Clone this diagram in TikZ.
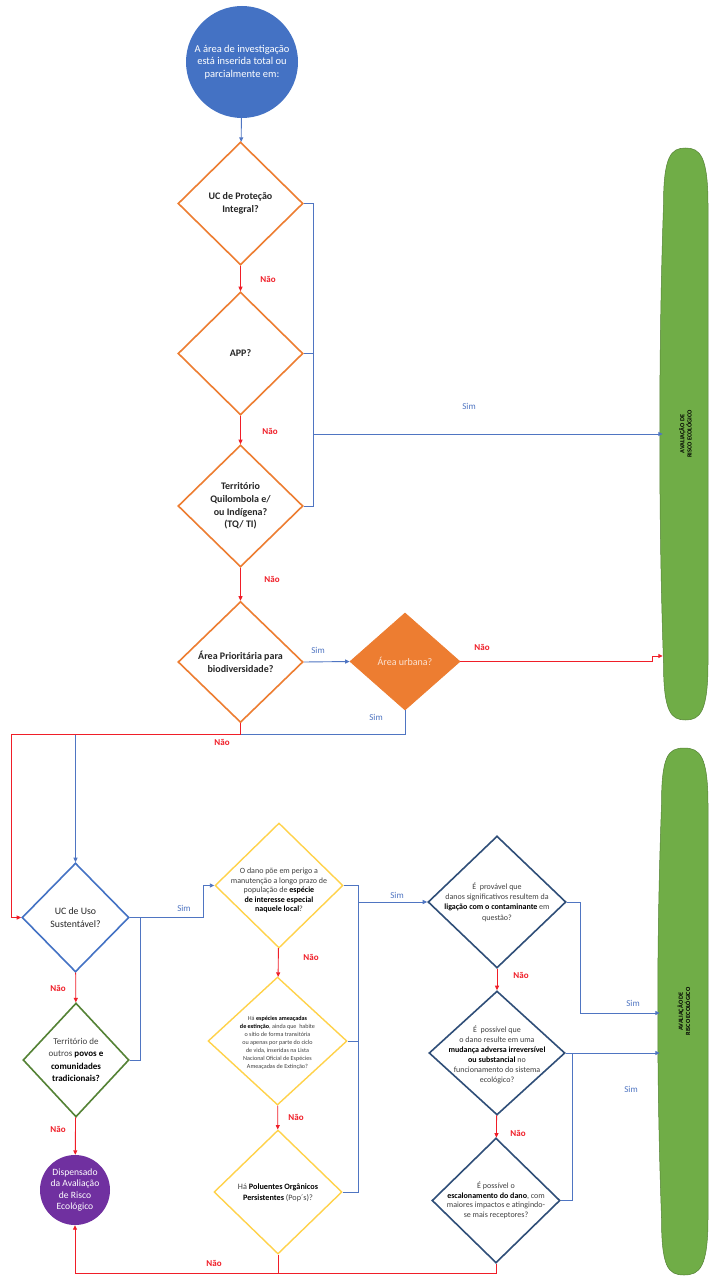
\documentclass[tikz,border=0pt]{standalone}
\usepackage{fontspec}
\setmainfont{Carlito}
\usetikzlibrary{shapes.geometric,arrows.meta,calc}
\definecolor{orC}{HTML}{ED7D31}
\definecolor{blC}{HTML}{4472C4}
\definecolor{lnB}{HTML}{4F75C2}
\definecolor{rdC}{HTML}{F01E28}
\definecolor{puC}{HTML}{7030A0}
\definecolor{grC}{HTML}{70AD47}
\definecolor{grD}{HTML}{548235}
\definecolor{ylC}{HTML}{FFD24A}
\definecolor{nvC}{HTML}{2F4E78}
\definecolor{txG}{HTML}{404040}
\definecolor{urT}{HTML}{FBE3D3}
\newcommand{\bkb}[1]{\textbf{\color{black}#1}}
\begin{document}
\begin{tikzpicture}[x=1pt,y=-1pt,
  dia/.style={shape=diamond,inner sep=0pt,line width=1.6pt,fill=white},
  circ/.style={shape=circle,inner sep=0pt,draw=none},
  txt/.style={align=center,inner sep=0pt,font=\fontsize{10}{12}\selectfont},
  otxt/.style={txt,text=black!85,font=\bfseries\fontsize{10}{12.5}\selectfont},
  ln/.style={line width=0.9pt},
  bl/.style={ln,draw=lnB},
  rd/.style={ln,draw=rdC},
  arr/.style={-{Triangle[length=4.5pt,width=4pt]}},
  nao/.style={text=rdC,inner sep=0pt,font=\bfseries\fontsize{9}{10}\selectfont},
  sim/.style={text=lnB,inner sep=0pt,font=\fontsize{9}{10}\selectfont},
  gtxt/.style={align=center,inner sep=0pt,rotate=90,font=\bfseries\fontsize{6.3}{7.3}\selectfont},
  gbox/.style={shape=rectangle,draw=none,inner sep=0pt}
]
\useasboundingbox (0,0) rectangle (710,1279);
\fill[white] (0,0) rectangle (710,1279);

% green terminators
\node[gbox,minimum width=45pt,minimum height=572pt] (g1) at (685.5,434) {};
\node[gbox,minimum width=48pt,minimum height=527pt] (g2) at (684,1011.5) {};
\filldraw[fill=grC,draw=grD,line width=0.5pt]
  (685.5,148) .. controls (700,148) and (708,156) .. (708,205)
  -- (708,663) .. controls (708,712) and (700,720) .. (685.5,720)
  .. controls (671,720) and (663.5,712) .. (663.5,663)
  .. controls (658.5,520) and (658.5,350) .. (663.5,205)
  .. controls (663.5,156) and (671,148) .. (685.5,148) -- cycle;
\filldraw[fill=grC,draw=grD,line width=0.5pt]
  (684,748) .. controls (700,748) and (708,756) .. (708,805)
  -- (708,1218) .. controls (708,1267) and (700,1275) .. (684,1275)
  .. controls (668,1275) and (661.5,1267) .. (661.5,1218)
  .. controls (656.5,1080) and (656.5,940) .. (661.5,805)
  .. controls (661.5,756) and (668,748) .. (684,748) -- cycle;
\node[gtxt] (g1t) at (g1) {AVALIAÇÃO DE\\RISCO ECOLÓGICO};
\node[gtxt] (g2t) at (g2) {AVALIAÇÃO DE\\RISCO ECOLÓGICO};

% start and end circles
\node[circ,fill=blC,minimum size=112pt] (start) at (242,62) {};
\node[txt,text=white,font=\fontsize{10.5}{12.5}\selectfont] (startt) at (start) {A área de investigação\\está inserida total ou\\parcialmente em:};
\node[circ,fill=puC,minimum size=70pt] (disp) at (75,1190) {};
\node[txt,text=white,font=\fontsize{9.6}{11.4}\selectfont] (dispt) at (disp) {Dispensado\\da Avaliação\\de Risco\\Ecológico};

% orange diamonds
\node[dia,draw=orC,minimum width=125pt,minimum height=123pt] (d1) at (240.5,203.5) {};
\node[dia,draw=orC,minimum width=125pt,minimum height=123pt] (d2) at (240.5,353.5) {};
\node[dia,draw=orC,minimum width=125pt,minimum height=122pt] (d3) at (240.5,506) {};
\node[dia,draw=orC,minimum width=125pt,minimum height=121pt] (d4) at (240.5,662) {};
\node[dia,draw=orC,fill=orC,line width=0.8pt,minimum width=110pt,minimum height=97pt] (urb) at (405,661.5) {};
\node[otxt] (d1t) at (d1) {UC de Proteção\\Integral?};
\node[otxt] (d2t) at (d2) {APP?};
\node[otxt,font=\bfseries\fontsize{10}{12.8}\selectfont] (d3t) at (d3) {Território\\Quilombola e/\\ou Indígena?\\(TQ/ TI)};
\node[otxt] (d4t) at (d4) {Área Prioritária para\\biodiversidade?};
\node[txt,text=urT] (urbt) at (urb) {Área urbana?};

% left column
\node[dia,draw=blC,minimum width=107pt,minimum height=109pt] (uc) at (75.5,917.5) {};
\node[txt,text=black!85,font=\fontsize{9.8}{12.5}\selectfont] (uct) at (uc) {UC de Uso\\Sustentável?};
\node[dia,draw=grD,minimum width=106pt,minimum height=114pt] (terr) at (76,1060) {};
\node[txt,text=txG,font=\fontsize{9}{12.3}\selectfont] (terrt) at (terr) {Território de\\outros \bkb{povos e}\\\bkb{comunidades}\\\bkb{tradicionais?}};

% yellow diamonds
\node[dia,draw=ylC,line width=1.4pt,minimum width=128pt,minimum height=125pt] (y1) at (279,885.5) {};
\node[dia,draw=ylC,line width=1.4pt,minimum width=139pt,minimum height=128pt] (y2) at (277.5,1041) {};
\node[dia,draw=ylC,line width=1.4pt,minimum width=128pt,minimum height=124pt] (y3) at (278,1192) {};
\node[txt,text=txG,font=\fontsize{8}{9.6}\selectfont] (y1t) at ($(y1)+(0,5)$) {O dano põe em perigo a\\manutenção a longo prazo de\\população de \bkb{espécie}\\\bkb{de interesse especial}\\\bkb{naquele local}?};
\node[txt,text=txG,font=\fontsize{6.1}{7.9}\selectfont] (y2t) at ($(y2)+(0,2)$) {Há \bkb{espécies ameaçadas}\\\bkb{de extinção}, ainda que~ habite\\o sítio de forma transitória\\ou apenas por parte do ciclo\\de vida, inseridas na Lista\\Nacional Oficial de Espécies\\Ameaçadas de Extinção?};
\node[txt,text=txG,font=\fontsize{8.2}{11.3}\selectfont] (y3t) at ($(y3)+(0,1)$) {Há \bkb{Poluentes Orgânicos}\\\bkb{Persistentes} (Pop´s)?};

% navy diamonds
\node[dia,draw=nvC,minimum width=138pt,minimum height=132pt] (k1) at (497,902) {};
\node[dia,draw=nvC,minimum width=136pt,minimum height=124pt] (k2) at (497,1053) {};
\node[dia,draw=nvC,minimum width=128pt,minimum height=125pt] (k3) at (496,1200.5) {};
\node[txt,text=txG,font=\fontsize{8}{10.4}\selectfont] (k1t) at (k1) {É~ provável que\\danos significativos resultem da\\\bkb{ligação com o contaminante} em\\questão?};
\node[txt,text=txG,font=\fontsize{8}{9.9}\selectfont] (k2t) at ($(k2)+(0,2)$) {É~ possível que\\o dano resulte em uma\\\bkb{mudança adversa irreversível}\\\bkb{ou substancial} no\\funcionamento do sistema\\ecológico?};
\node[txt,text=txG,font=\fontsize{8}{9.5}\selectfont] (k3t) at (k3) {É possível o\\\bkb{escalonamento do dano}, com\\maiores impactos e atingindo-\\se mais receptores?};

% junction coordinates
\coordinate (j1) at (313,434);
\coordinate (r1) at (652,661.5);
\coordinate (jb) at (75.5,734);
\coordinate (jr) at (11,734);
\coordinate (ju) at (203,917.5);
\coordinate (jt) at (140,917.5);
\coordinate (jy) at (358,902);
\coordinate (jr2) at (75,1273);
\coordinate (jk1) at (580,1013);
\coordinate (jk3) at (572,1053);

% top blue connectors
\draw[bl,arr] (start) -- (d1);
\draw[bl] (d1.east) -| (j1);
\draw[bl] (d2.east) -- (d2.east -| j1);
\draw[bl] (d3.east) -| (j1);
\draw[bl,arr] (j1) -- (j1 -| g1.west);
\node[sim] (s1) at (469,406) {Sim};

% top red connectors
\draw[rd,arr] (d1) -- (d2);
\draw[rd,arr] (d2) -- (d3);
\draw[rd,arr] (d3) -- (d4);
\node[nao] (n1) at (268,279) {Não};
\node[nao] (n2) at (270,431) {Não};
\node[nao] (n3) at (272,579) {Não};

% area prioritaria / urbana
\draw[bl,arr] (d4.east) -- (urb.west);
\node[sim] (s2) at (318,650) {Sim};
\draw[rd,arr] (urb.east) -- (r1) |- (g1.west |- 0,656);
\node[nao] (n4) at (482,647) {Não};
\draw[bl,arr] (urb.south) |- (jb) -- (uc.north);
\node[sim] (s3) at (376,717) {Sim};
\draw[rd,arr] (d4.south) |- (jr) |- (uc.west);
\node[nao] (n5) at (222,742) {Não};

% left column connectors
\draw[rd,arr] (uc) -- (terr);
\node[nao] (n6) at (58,988) {Não};
\draw[rd,arr] (terr) -- (disp);
\node[nao] (n7) at (58,1129) {Não};
\draw[bl,arr] (uc.east) -- (ju) |- (y1.west);
\node[sim] (s4) at (184,908) {Sim};
\draw[bl] (terr.east) -| (jt);

% yellow connectors
\draw[rd,arr] (y1) -- (y2);
\node[nao] (n8) at (311,957) {Não};
\draw[rd,arr] (y2) -- (y3);
\node[nao] (n9) at (296,1117) {Não};
\draw[bl] (y1.east) -| (jy);
\draw[bl] (y2.east) -| (jy);
\draw[bl] (y3.east) -| (jy);
\draw[bl,arr] (jy) -- (k1.west);
\node[sim] (s5) at (397,895) {Sim};

% navy connectors
\draw[rd,arr] (k1) -- (k2);
\node[nao] (n10) at (521,975) {Não};
\draw[rd,arr] (k2) -- (k3);
\node[nao] (n11) at (518,1133) {Não};
\draw[bl] (k1.east) -| (jk1);
\draw[bl,arr] (jk1) -- (jk1 -| g2.west);
\node[sim] (s6) at (633,1003) {Sim};
\draw[bl,arr] (k2.east) -- (k2.east -| g2.west);
\node[sim] (s7) at (631,1089) {Sim};
\draw[bl] (k3.east) -| (jk3);

% bottom red return
\draw[rd,arr] (k3.south) |- (jr2) -- (disp.south);
\draw[rd] (y3.south) -- (y3.south |- jr2);
\node[nao] (n12) at (214,1263) {Não};
\end{tikzpicture}
\end{document}
